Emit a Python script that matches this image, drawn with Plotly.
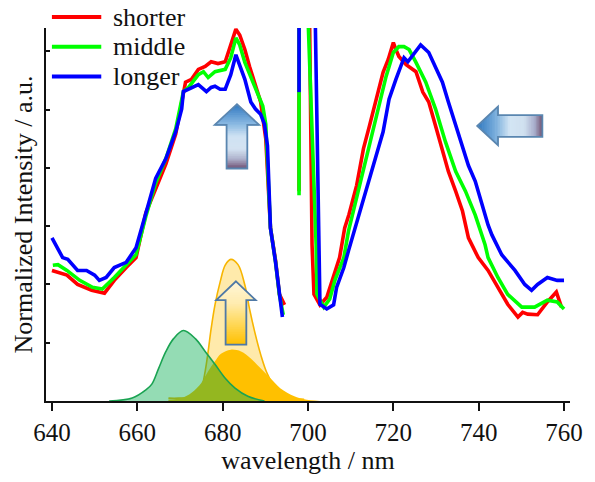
import plotly.graph_objects as go
import numpy as np

# ---------------- data ----------------
series_names = ["shorter", "middle", "longer"]
series_colors = ["#ff0000", "#00ff00", "#0000ff"]

x_ticks = [640, 660, 680, 700, 720, 740, 760]

# shorter (red)
red_left_x = [640.0, 643.5, 646.0, 649.3, 652.3, 654.6, 657.4, 659.7, 662.0, 664.3, 666.7, 669.0, 670.8,
              671.3, 672.7, 674.3, 675.9, 677.3, 678.9, 680.6, 681.9, 683.1, 684.0, 685.2, 686.3, 687.5,
              688.9, 690.1, 691.2, 692.4, 693.3, 694.5]
red_left_y = [2.24, 2.16, 2.00, 1.90, 1.85, 2.07, 2.29, 2.46, 3.23, 3.65, 4.07, 4.58, 5.31,
              5.47, 5.52, 5.69, 5.74, 5.82, 5.79, 5.82, 6.11, 6.38, 6.28, 6.03, 5.74, 5.47,
              5.13, 4.50, 2.97, 2.41, 1.83, 1.65]
red_spike_x = [697.9, 697.9]
red_spike_y = [7.0, 3.60]
red_right_x = [700.3, 700.95, 701.4, 702.8, 704.4, 706.0, 707.4, 708.6, 709.6, 711.4, 713.0, 714.4, 716.0,
               717.6, 718.8, 720.0, 720.6, 721.3, 723.0, 724.1, 725.3, 726.9, 728.3, 729.9, 731.5, 732.9,
               734.6, 736.2, 737.6, 739.9, 742.2, 744.5, 746.8, 749.2, 750.3, 751.5, 753.8, 756.1, 758.2,
               759.4]
red_right_y = [7.0, 2.68, 1.83, 1.65, 1.78, 2.12, 2.46, 2.97, 3.20, 3.70, 4.33, 4.72, 5.18,
               5.64, 5.86, 6.15, 6.03, 5.91, 5.77, 5.72, 5.65, 5.30, 5.13, 4.72, 4.33, 3.94,
               3.60, 3.26, 2.80, 2.46, 2.24, 1.95, 1.66, 1.44, 1.52, 1.49, 1.48, 1.70, 1.87,
               1.61]

# middle (green)
green_left_x = [640.2, 641.4, 643.5, 646.5, 649.5, 651.8, 654.6, 657.4, 659.7, 662.0, 664.3, 666.7, 669.0,
                670.8, 672.0, 674.3, 675.5, 676.6, 678.2, 680.6, 681.9, 683.1, 684.0, 685.2, 687.5, 689.4,
                690.1, 691.2, 692.4, 693.3, 694.2]
green_left_y = [2.33, 2.34, 2.24, 2.07, 1.95, 1.92, 2.12, 2.33, 2.51, 3.17, 3.74, 4.16, 4.67,
                5.31, 5.38, 5.60, 5.65, 5.55, 5.65, 5.69, 5.89, 6.23, 6.11, 5.81, 5.40, 5.06,
                4.75, 2.97, 2.38, 1.82, 1.48]
green_spike_x = [697.9, 697.9]
green_spike_y = [7.0, 3.53]
green_right_x = [699.8, 701.9, 702.1, 703.7, 705.1, 706.3, 708.4, 709.5, 712.1, 714.2, 716.0, 718.3, 720.0,
                 721.3, 722.5, 723.7, 725.3, 727.6, 729.9, 732.2, 734.6, 736.9, 739.2, 741.5, 742.2, 744.5,
                 746.8, 750.1, 753.1, 756.1, 758.4, 760.0]
green_right_y = [7.0, 2.68, 1.83, 1.61, 1.75, 2.07, 2.46, 2.92, 3.70, 4.33, 4.89, 5.57, 5.98,
                 6.08, 6.08, 6.03, 5.81, 5.47, 5.01, 4.45, 3.94, 3.60, 3.19, 2.68, 2.46, 2.12,
                 1.83, 1.61, 1.61, 1.73, 1.70, 1.58]

# longer (blue)
blue_left_x = [640.0, 641.2, 642.5, 643.7, 644.9, 646.0, 648.1, 650.0, 651.1, 652.7, 654.6, 657.4, 659.7,
               661.1, 662.7, 664.3, 666.7, 669.0, 670.4, 670.8, 672.0, 673.1, 674.3, 676.2, 677.3, 678.2,
               679.4, 680.6, 681.9, 683.1, 684.0, 685.2, 686.6, 687.7, 688.9, 689.8, 690.5, 691.2, 692.4,
               693.3, 694.0]
blue_left_y = [2.80, 2.63, 2.46, 2.43, 2.33, 2.24, 2.24, 2.16, 2.07, 2.12, 2.29, 2.38, 2.63,
               2.97, 3.40, 3.82, 4.16, 4.62, 5.01, 5.31, 5.35, 5.38, 5.43, 5.31, 5.38, 5.40,
               5.35, 5.35, 5.60, 5.94, 5.77, 5.52, 5.13, 5.01, 4.92, 4.75, 4.38, 2.97, 2.38,
               1.78, 1.44]
blue_spike_x = [697.9, 697.9]
blue_spike_y = [7.0, 5.30]
blue_right_x = [701.6, 702.6, 702.8, 704.4, 706.0, 706.7, 708.4, 709.5, 710.2, 713.0, 715.3, 717.6, 719.0,
                720.6, 721.8, 722.5, 723.4, 724.6, 726.4, 728.3, 729.9, 731.5, 732.9, 734.6, 736.2, 737.6,
                739.2, 740.8, 742.2, 743.1, 743.8, 745.4, 748.5, 750.8, 752.4, 753.8, 756.1, 758.4, 760.0]
blue_right_y = [7.0, 2.68, 1.66, 1.58, 1.65, 1.95, 2.29, 2.58, 2.75, 3.43, 4.04, 4.62, 5.18,
                5.52, 5.74, 5.89, 5.82, 5.94, 6.11, 5.98, 5.74, 5.47, 5.13, 4.72, 4.33, 4.04,
                3.77, 3.36, 3.02, 2.85, 2.75, 2.51, 2.24, 2.00, 1.90, 2.00, 2.12, 2.07, 2.07]

# illustrative band profiles at the bottom
band_green_x = [653.4, 658.8, 662.0, 663.4, 665.0, 666.7, 668.5, 670.8, 673.6, 675.9, 678.2, 680.6, 682.9, 685.9, 689.8]
band_green_y = [0.00, 0.05, 0.19, 0.29, 0.56, 0.85, 1.07, 1.21, 1.07, 0.85, 0.63, 0.39, 0.22, 0.08, 0.00]

band_tall_x = [667.3, 669.7, 673.6, 675.0, 675.9, 676.6, 677.3, 678.2, 679.4, 680.6, 681.9, 683.6, 685.2,
               686.3, 687.5, 688.9, 690.5, 692.8, 695.2, 699.1]
band_tall_y = [0.05, 0.05, 0.08, 0.22, 0.51, 0.85, 1.24, 1.65, 2.04, 2.33, 2.43, 2.34, 1.99,
               1.58, 1.19, 0.80, 0.46, 0.17, 0.05, 0.03]

band_small_x = [667.3, 670.4, 672.7, 675.0, 676.6, 678.2, 679.6, 681.9, 684.3, 686.6, 688.9, 691.2, 693.5,
                696.8, 699.1, 702.8]
band_small_y = [0.02, 0.05, 0.14, 0.31, 0.51, 0.68, 0.81, 0.88, 0.85, 0.73, 0.56, 0.39, 0.22,
                0.08, 0.03, 0.00]

# ---------------- figure ----------------
W, H = 595, 482
ML, MR, MT, MB = 46, 18, 28, 77
PW, PH = W - ML - MR, H - MT - MB
FONT = "Liberation Serif"


def PX(x):
    return (x - ML) / PW


def PY(y):
    return (H - MB - y) / PH


fig = go.Figure()

fig.add_trace(go.Scatter(x=band_tall_x, y=band_tall_y, mode="lines", fill="tozeroy",
                         line=dict(color="#f7b500", width=1.6, shape="spline"),
                         fillcolor="rgba(255,192,0,0.33)", showlegend=False, hoverinfo="skip"))
fig.add_trace(go.Scatter(x=band_small_x, y=band_small_y, mode="lines", fill="tozeroy",
                         line=dict(color="rgba(255,192,0,0)", width=0, shape="spline"),
                         fillcolor="#ffc000", showlegend=False, hoverinfo="skip"))
fig.add_trace(go.Scatter(x=band_green_x, y=band_green_y, mode="lines", fill="tozeroy",
                         line=dict(color="#1aa352", width=1.6, shape="spline"),
                         fillcolor="rgba(0,171,77,0.42)", showlegend=False, hoverinfo="skip"))


def joined(*parts):
    xs, ys = [], []
    for i, (px_, py_) in enumerate(parts):
        if i:
            xs.append(None)
            ys.append(None)
        xs += list(px_)
        ys += list(py_)
    return xs, ys


series = [
    ((red_left_x, red_left_y), (red_spike_x, red_spike_y), (red_right_x, red_right_y)),
    ((green_left_x, green_left_y), (green_spike_x, green_spike_y), (green_right_x, green_right_y)),
    ((blue_left_x, blue_left_y), (blue_spike_x, blue_spike_y), (blue_right_x, blue_right_y)),
]
for name, col, parts in zip(series_names, series_colors, series):
    xs, ys = joined(*parts)
    fig.add_trace(go.Scatter(x=xs, y=ys, mode="lines", name=name,
                             line=dict(color=col, width=3.6), showlegend=False))

# ---------------- arrows (decoration) ----------------
def hex2rgb(h):
    h = h.lstrip("#")
    return [int(h[i:i + 2], 16) for i in (0, 2, 4)]


def cstop(stops, t):
    for (t0, c0), (t1, c1) in zip(stops[:-1], stops[1:]):
        if t <= t1:
            f = 0 if t1 == t0 else (t - t0) / (t1 - t0)
            a, b = hex2rgb(c0), hex2rgb(c1)
            return "rgb(%d,%d,%d)" % tuple(round(a[i] + (b[i] - a[i]) * f) for i in range(3))
    return stops[-1][1]


shapes = []


def up_arrow(cx, ty, hw, hb, sw, sb, stops, outline, n=36):
    ys = sorted(set(list(np.linspace(ty, sb, n + 1)) + [hb]))

    def half(y):
        return hw * (y - ty) / (hb - ty) if y <= hb else sw

    for y0, y1 in zip(ys[:-1], ys[1:]):
        y1e = min(y1 + 0.7, sb)
        h0, h1 = half(y0), half(y1) if y1 <= hb else sw
        if y0 >= hb:
            h0 = h1 = sw
        t = ((y0 + y1) / 2 - ty) / (sb - ty)
        path = "M%f,%f L%f,%f L%f,%f L%f,%f Z" % (
            PX(cx - h0), PY(y0), PX(cx + h0), PY(y0), PX(cx + h1), PY(y1e), PX(cx - h1), PY(y1e))
        shapes.append(dict(type="path", path=path, xref="paper", yref="paper",
                           fillcolor=cstop(stops, t), line=dict(width=0), layer="above"))
    pts = [(cx, ty), (cx + hw, hb), (cx + sw, hb), (cx + sw, sb), (cx - sw, sb), (cx - sw, hb), (cx - hw, hb)]
    path = "M" + " L".join("%f,%f" % (PX(a), PY(b)) for a, b in pts) + " Z"
    shapes.append(dict(type="path", path=path, xref="paper", yref="paper",
                       line=dict(color=outline, width=1.8), layer="above"))


def left_arrow(tx, cy, hh, hb, sh, se, stops, outline, n=40):
    xs = sorted(set(list(np.linspace(tx, se, n + 1)) + [hb]))

    def half(x):
        return hh * (x - tx) / (hb - tx) if x <= hb else sh

    for x0, x1 in zip(xs[:-1], xs[1:]):
        x1e = min(x1 + 0.7, se)
        h0 = half(x0)
        h1 = half(x1) if x1 <= hb else sh
        if x0 >= hb:
            h0 = h1 = sh
        t = ((x0 + x1) / 2 - tx) / (se - tx)
        path = "M%f,%f L%f,%f L%f,%f L%f,%f Z" % (
            PX(x0), PY(cy - h0), PX(x0), PY(cy + h0), PX(x1e), PY(cy + h1), PX(x1e), PY(cy - h1))
        shapes.append(dict(type="path", path=path, xref="paper", yref="paper",
                           fillcolor=cstop(stops, t), line=dict(width=0), layer="above"))
    pts = [(tx, cy), (hb, cy - hh), (hb, cy - sh), (se, cy - sh), (se, cy + sh), (hb, cy + sh), (hb, cy + hh)]
    path = "M" + " L".join("%f,%f" % (PX(a), PY(b)) for a, b in pts) + " Z"
    shapes.append(dict(type="path", path=path, xref="paper", yref="paper",
                       line=dict(color=outline, width=1.8), layer="above"))


blue_v = [(0, "#2f78c0"), (0.32, "#8dbbe3"), (0.5, "#cfe2f3"), (0.7, "#d3e2f1"),
          (0.85, "#aeb2cc"), (1.0, "#6f4f72")]
blue_h = [(0, "#2f78c0"), (0.3, "#80b2de"), (0.5, "#d3e5f4"), (0.72, "#d0e0ef"),
          (0.88, "#a8aecc"), (1.0, "#70506f")]
yellow_v = [(0, "#fff6d8"), (0.35, "#ffecb0"), (0.65, "#ffd95e"), (1.0, "#ffc000")]

up_arrow(239.5, 105, 22.5, 126, 10.5, 170, blue_v, "#5a86b0")
left_arrow(483, 127, 19.5, 504, 11, 549, blue_h, "#5a86b0")
up_arrow(238.5, 284, 20, 303, 10.5, 348, yellow_v, "#4f79a6")

# custom legend
leg_y = [17, 47, 77]
for name, col, ly in zip(series_names, series_colors, leg_y):
    shapes.append(dict(type="line", xref="paper", yref="paper", x0=PX(52), x1=PX(102),
                       y0=PY(ly), y1=PY(ly), line=dict(color=col, width=4)))
annotations = [dict(text=name, xref="paper", yref="paper", x=PX(112), y=PY(ly), xanchor="left",
                    yanchor="middle", showarrow=False, font=dict(family=FONT, size=26, color="#111"))
               for name, ly in zip(series_names, leg_y)]

fig.update_layout(
    width=W, height=H,
    margin=dict(l=ML, r=MR, t=MT, b=MB),
    paper_bgcolor="white", plot_bgcolor="white",
    font=dict(family=FONT, color="#111", size=26),
    shapes=shapes, annotations=annotations,
    showlegend=False,
    xaxis=dict(range=[638.6, 761.4], tickvals=x_ticks, ticktext=[str(v) for v in x_ticks],
               ticks="outside", ticklen=8, tickwidth=2, tickcolor="#111",
               showline=True, linewidth=2, linecolor="#111", mirror=False,
               showgrid=False, zeroline=False,
               tickfont=dict(family=FONT, size=25, color="#111"),
               title=dict(text="wavelength / nm", font=dict(family=FONT, size=26, color="#111"), standoff=6)),
    yaxis=dict(range=[0, 6.4], dtick=1, tick0=0, ticks="inside", ticklen=4, tickwidth=1.5, tickcolor="#111",
               showticklabels=False, showline=True, linewidth=2, linecolor="#111",
               showgrid=False, zeroline=False,
               title=dict(text="Normalized Intensity / a.u.", font=dict(family=FONT, size=26, color="#111"),
                          standoff=4)),
    yaxis2=dict(range=[-0.07, 5.24], dtick=1, tick0=0, overlaying="y", side="right", anchor="x",
                ticks="inside", ticklen=4, tickwidth=1.5, tickcolor="#111",
                showticklabels=False, showline=True, linewidth=2, linecolor="#111",
                showgrid=False, zeroline=False),
)

fig.write_html("out.html")
